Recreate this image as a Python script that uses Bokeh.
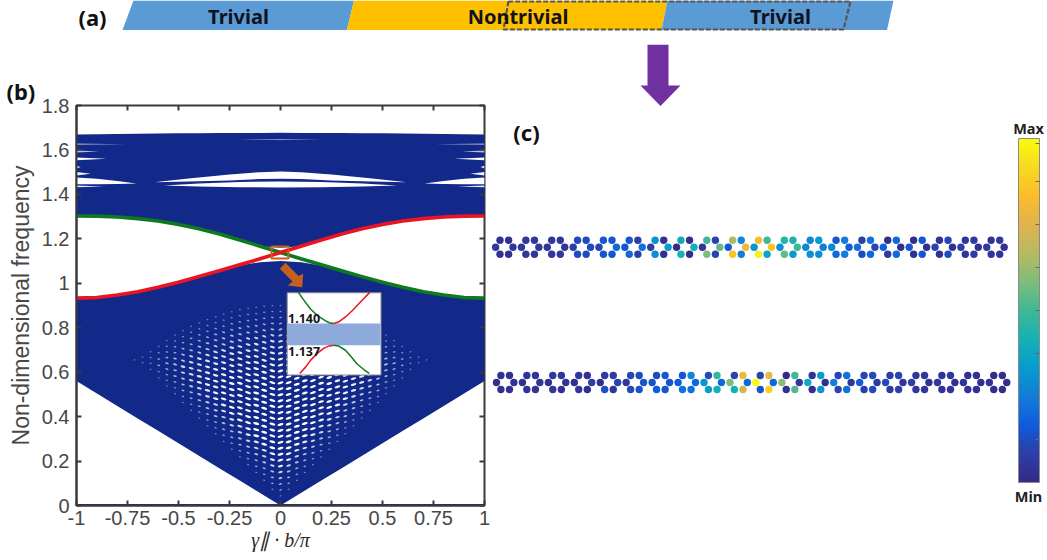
import math
import numpy as np
from bokeh.plotting import figure
from bokeh.layouts import column, row
from bokeh.embed import file_html
from bokeh.resources import INLINE
from bokeh.core.properties import value
from bokeh.models import (Range1d, LinearAxis, FixedTicker, ColorBar, LinearColorMapper, ColumnDataSource)

# ---------- panel (b) data ----------
x_ticks = [-1, -0.75, -0.5, -0.25, 0, 0.25, 0.5, 0.75, 1]
x_labels = ["-1", "-0.75", "-0.5", "-0.25", "0", "0.25", "0.5", "0.75", "1"]
y_ticks = [0, 0.2, 0.4, 0.6, 0.8, 1.0, 1.2, 1.4, 1.6, 1.8]
y_labels = ["0", "0.2", "0.4", "0.6", "0.8", "1", "1.2", "1.4", "1.6", "1.8"]

red_k = [-1, -0.9, -0.8, -0.7, -0.6, -0.5, -0.4, -0.3, -0.2, -0.1, 0, 0.1, 0.2, 0.3, 0.4, 0.5, 0.6, 0.7, 0.8, 0.9, 1]
red_f = [0.933, 0.936, 0.947, 0.962, 0.982, 1.005, 1.03, 1.056, 1.083, 1.11, 1.1385, 1.167, 1.195, 1.222, 1.245, 1.265, 1.28, 1.291, 1.298, 1.302, 1.303]
green_f = [1.303, 1.302, 1.298, 1.291, 1.28, 1.265, 1.245, 1.222, 1.195, 1.167, 1.1385, 1.11, 1.083, 1.056, 1.03, 1.005, 0.982, 0.962, 0.947, 0.936, 0.933]

low_k = [-1, 0, 1]
low_edge = [0.56, 0.0, 0.56]
up_top_k = [-1, -0.5, 0, 0.5, 1]
up_top_f = [1.67, 1.675, 1.677, 1.675, 1.67]
mid_low_top = [0.933, 0.936, 0.947, 0.962, 0.982, 1.005, 1.03, 1.056, 1.08, 1.095, 1.10, 1.095, 1.08, 1.056, 1.03, 1.005, 0.982, 0.962, 0.947, 0.936, 0.933]
mid_up_bot = [1.303, 1.302, 1.298, 1.291, 1.28, 1.265, 1.245, 1.222, 1.195, 1.167, 1.16, 1.167, 1.195, 1.222, 1.245, 1.265, 1.28, 1.291, 1.298, 1.302, 1.303]

# band gaps of the upper band
lens1_k = [-0.62, -0.45, -0.25, -0.1, 0, 0.1, 0.25, 0.45, 0.62]
lens1_top = [1.455, 1.472, 1.49, 1.50, 1.503, 1.50, 1.49, 1.472, 1.455]
lens1_bot = [1.455, 1.458, 1.463, 1.469, 1.47, 1.469, 1.463, 1.458, 1.455]
lens2_k = [-0.572, -0.4, -0.2, 0, 0.2, 0.4, 0.572]
lens2_top = [1.44, 1.449, 1.456, 1.458, 1.456, 1.449, 1.44]
lens2_bot = [1.44, 1.436, 1.432, 1.431, 1.432, 1.436, 1.44]
wedge_k = [-1, -0.9, -0.8, -0.706]
wedge_top = [1.476, 1.47, 1.46, 1.449]
wedge_bot = [1.446, 1.446, 1.447, 1.449]
sliver_end = [-0.867, -0.93, -0.98, -0.853, -0.89, -0.76]
sliver_f = [1.436, 1.493, 1.523, 1.56, 1.593, 1.626]
sliver_half = [0.004, 0.008, 0.006, 0.006, 0.004, 0.003]
sliver_alpha = [0.9, 0.95, 0.9, 1.0, 0.7, 0.6]

# lattice of small gaps in the lower band, one entry per column from k = 0 outwards
hole_col_k = [0.0, 0.04, 0.08, 0.119, 0.159, 0.199, 0.239, 0.279, 0.318, 0.358, 0.398, 0.438, 0.478, 0.517, 0.557, 0.597, 0.637, 0.677, 0.716]
hole_high = [0.913, 0.913, 0.91, 0.905, 0.90, 0.895, 0.885, 0.875, 0.862, 0.85, 0.835, 0.82, 0.80, 0.78, 0.755, 0.73, 0.705, 0.68, 0.66]
hole_low = [0.03, 0.06, 0.10, 0.135, 0.17, 0.205, 0.24, 0.275, 0.31, 0.345, 0.38, 0.415, 0.45, 0.49, 0.525, 0.56, 0.60, 0.63, 0.65]
hole_count = [33, 32, 30, 28, 27, 25, 24, 22, 21, 19, 17, 15, 13, 11, 9, 6, 4, 2, 1]

# inset: normalised k against the zoomed frequency
inset_up_green_k = [-0.76, -0.65, -0.5, -0.35, -0.21, -0.1, 0]
inset_up_green_f = [1.1443, 1.1433, 1.1420, 1.1411, 1.1405, 1.1401, 1.1400]
inset_up_red_k = [0, 0.1, 0.25, 0.4, 0.5, 0.65, 0.77]
inset_up_red_f = [1.1400, 1.1402, 1.1409, 1.1418, 1.1425, 1.1435, 1.1443]
inset_lo_red_k = [-0.73, -0.6, -0.5, -0.35, -0.21, -0.1, 0]
inset_lo_red_f = [1.1331, 1.1340, 1.1349, 1.1359, 1.1366, 1.1369, 1.1370]
inset_lo_green_k = [0, 0.1, 0.25, 0.4, 0.5, 0.65, 0.76]
inset_lo_green_f = [1.1370, 1.1369, 1.1363, 1.1352, 1.1344, 1.1336, 1.1331]

# ---------- panel (c) data: field amplitude at each of six sites of twenty rings ----------
top_tl = [.03, .05, .05, .12, .15, .15, .30, .40, .50, .65, .82, .45, .28, .15, .08, .02, .02, .04, .05, .04]
top_tr = [.03, .05, .05, .12, .15, .08, .03, .02, .10, .28, .50, .43, .33, .25, .22, .20, .15, .10, .06, .05]
top_ml = [.05, .05, .05, .08, .10, .15, .08, .00, .05, .15, .32, .30, .28, .28, .22, .18, .15, .10, .08, .06]
top_mr = [.05, .05, .05, .12, .20, .22, .33, .40, .55, .80, .85, .50, .25, .17, .10, .03, .02, .03, .03, .03]
top_bl = [.03, .05, .05, .12, .15, .20, .30, .42, .58, .85, .97, .55, .30, .20, .12, .06, .03, .03, .04, .05]
top_br = [.03, .05, .05, .12, .15, .08, .03, .02, .10, .25, .36, .33, .30, .25, .20, .20, .15, .12, .07, .05]

bot_tl = [.03, .04, .05, .05, .06, .10, .12, .15, .12, .10, .10, .00, .04, .10, .10, .08, .05, .04, .03, .02]
bot_tr = [.03, .04, .05, .03, .07, .12, .15, .27, .47, .80, .78, .50, .33, .22, .12, .10, .05, .05, .03, .02]
bot_ml = [.02, .03, .03, .03, .02, .05, .14, .17, .32, .58, 1.0, .60, .38, .26, .17, .12, .08, .05, .04, .03]
bot_mr = [.04, .04, .04, .08, .10, .14, .14, .20, .20, .20, .20, .05, .02, .05, .07, .05, .03, .03, .02, .02]
bot_bl = [.03, .04, .05, .05, .13, .12, .17, .22, .34, .42, .14, .03, .02, .10, .08, .06, .05, .04, .04, .02]
bot_br = [.03, .04, .03, .03, .05, .14, .15, .22, .42, .72, .88, .52, .32, .22, .12, .08, .05, .05, .03, .02]

parula_stops = ["#352a87", "#2c3fa8", "#0f5cdd", "#127dd8", "#079ccf", "#15b1b4", "#3fb896", "#7fbc7a", "#b7ba62", "#e0b34e", "#fdbc2a", "#f8d91f", "#f9fb0e"]

NAVY = "#13298a"
RED = "#ea1422"
GREEN = "#0e7a1f"
ORANGE = "#c55f1e"
INK = "#111111"
AXIS = "#3a3a3a"
TICK_TXT = "#474747"


def rgb(h):
    return [int(h[i:i + 2], 16) for i in (1, 3, 5)]


stops = np.array([rgb(c) for c in parula_stops], dtype=float)
pos = np.linspace(0, 1, len(parula_stops))
palette = ["#%02x%02x%02x" % tuple(int(round(np.interp(t, pos, stops[:, i]))) for i in range(3))
           for t in np.linspace(0, 1, 256)]
mapper = LinearColorMapper(palette=palette, low=0, high=1)

BOLD = value("Noto Sans")

# ---------- panel (a): strip across the top ----------
top = figure(width=1047, height=44, x_range=Range1d(0, 1047), y_range=Range1d(44, 0),
             x_axis_type=None, y_axis_type=None, toolbar_location=None, output_backend="svg",
             min_border=0, outline_line_color=None, frame_align=False)
top.grid.visible = False
top.patch([122, 133, 353.5, 346.5], [29.5, 0, 0, 29.5], color="#5b9bd5", line_color=None)
top.patch([346.5, 353.5, 667, 661], [29.5, 0, 0, 29.5], color="#ffc000", line_color=None)
top.patch([661, 667, 893, 886.5], [29.5, 0, 0, 29.5], color="#5b9bd5", line_color=None)
top.line([508, 503, 843, 850, 508], [0.8, 29, 29, 0.8, 0.8], line_color="#555555", line_width=2.2, line_dash="5 2")
top.text([238, 517.5, 780], [15.5, 15.5, 15.5], text=["Trivial", "Nontrivial", "Trivial"],
         text_font=BOLD, text_font_style="bold", text_font_size="20px", text_color="#10131c",
         text_align="center", text_baseline="middle")
top.text([92], [16], text=["(a)"], text_font=BOLD, text_font_style="bold", text_font_size="22px",
         text_color=INK, text_align="center", text_baseline="middle")

# ---------- panel (b): band diagram ----------
b = figure(width=490, height=516, x_range=Range1d(-1, 1), y_range=Range1d(0, 1.8),
           toolbar_location=None, output_backend="svg", frame_align=False,
           min_border_left=76, min_border_right=6, min_border_top=61, min_border_bottom=55,
           outline_line_color=AXIS, outline_line_width=2, background_fill_color="white",
           title="(b)", title_location="above")
b.title.align = "left"
b.title.offset = -70
b.title.standoff = 0
b.title.text_font = "Noto Sans"
b.title.text_font_style = "bold"
b.title.text_font_size = "22px"
b.title.text_color = INK
b.title.text_baseline = "middle"
b.grid.visible = False

k_grid = sorted(set(red_k))
b.varea(k_grid, np.interp(k_grid, low_k, low_edge), mid_low_top, fill_color=NAVY)
b.varea(k_grid, mid_up_bot, np.interp(k_grid, up_top_k, up_top_f), fill_color=NAVY)
b.line([-1, 1], [0, 0], line_color=NAVY, line_width=3)

# small lattice gaps
hx, hy, hw, hh, ha, hal = [], [], [], [], [], []
for i, k in enumerate(hole_col_k):
    lo, hi, n = hole_low[i], hole_high[i], hole_count[i]
    step = (hi - lo) / max(n, 1)
    for j in range(n):
        f = lo + (j + 0.5) * step
        edge = min(hi - f, f - lo)
        s = min(1.0, edge / 0.18) * (1 - 0.45 * (k / 0.72) ** 2) * (1 - 0.45 * max(0, f - 0.55) / 0.36)
        for sgn in ([1] if k == 0 else [-1, 1]):
            hx.append(sgn * k)
            hy.append(f)
            hw.append(1.8 + 4.4 * s)
            hh.append(1.2 + 1.3 * s)
            ha.append(sgn * math.radians(16))
            hal.append(0.4 + 0.6 * s)
b.ellipse(hx, hy, width=hw, height=hh, angle=ha, width_units="screen", height_units="screen",
          fill_color="white", fill_alpha=hal, line_color=None)

# gaps of the upper band
for ks, tp, bt in [(lens1_k, lens1_top, lens1_bot), (lens2_k, lens2_top, lens2_bot)]:
    b.patch(list(ks) + list(ks)[::-1], list(tp) + list(bt)[::-1], color="white", line_color=None)
for sign in (-1, 1):
    wk = [-v for v in wedge_k] if sign == 1 else list(wedge_k)
    b.patch(wk + wk[::-1], wedge_top + wedge_bot[::-1], color="white", line_color=None)
    for e, f0, hf, al in zip(sliver_end, sliver_f, sliver_half, sliver_alpha):
        edge_k = -1 if sign == -1 else 1
        tip = e if sign == -1 else -e
        b.patch([edge_k, tip, edge_k], [f0 + hf, f0, f0 - hf], color="white", fill_alpha=al, line_color=None)
b.patch([-0.21, 0, 0.21, 0], [1.647, 1.649, 1.647, 1.645], color="white", fill_alpha=0.5, line_color=None)

# edge states
b.line(red_k, green_f, line_color=GREEN, line_width=3.6, line_join="round")
b.line(red_k, red_f, line_color=RED, line_width=3.6, line_join="round")


def bx(px):
    return (px - 280) / 204.0


def by(py):
    return (505 - py) / 222.2


# marker box and arrow into the inset
b.quad(left=bx(271), right=bx(288), top=by(246), bottom=by(258), fill_color=None, line_color=ORANGE, line_width=2)
arrow_px = [279.3, 285, 298, 302.7, 301.7, 287.3, 292]
arrow_py = [268.3, 262.3, 275.5, 273.3, 286.7, 285, 281]
b.patch([bx(v) for v in arrow_px], [by(v) for v in arrow_py], color=ORANGE, line_color=None)

# inset
b.quad(left=bx(286.7), right=bx(380.5), top=by(292.3), bottom=by(374.5), fill_color="white", line_color="#8c8c8c", line_width=1)


def ik(v):
    return bx(333.3 + 46.65 * v)


def if_(v):
    return by(323 - (v - 1.140) / 0.003 * 21.7)


b.quad(left=bx(287.3), right=bx(380), top=if_(1.140), bottom=if_(1.137), fill_color="#8eaadb", line_color=None)
for ks, fs, c_ in [(inset_up_green_k, inset_up_green_f, GREEN), (inset_up_red_k, inset_up_red_f, RED),
                   (inset_lo_red_k, inset_lo_red_f, RED), (inset_lo_green_k, inset_lo_green_f, GREEN)]:
    b.line([ik(v) for v in ks], [if_(v) for v in fs], line_color=c_, line_width=1.5, line_join="round")
b.text([bx(287.5), bx(287.5)], [by(318.5), by(351.5)], text=["1.140", "1.137"], text_font=BOLD,
       text_font_style="bold", text_font_size="12.5px", text_color="#151515",
       text_align="left", text_baseline="middle")

for ax in (b.xaxis[0], b.yaxis[0]):
    ax.major_tick_in = 5
    ax.major_tick_out = 0
    ax.minor_tick_line_color = None
    ax.major_tick_line_color = AXIS
    ax.major_tick_line_width = 2
    ax.axis_line_color = AXIS
    ax.axis_line_width = 2
    ax.major_label_text_font = "Liberation Sans"
    ax.major_label_text_font_size = "20px"
    ax.major_label_text_color = TICK_TXT
b.xaxis[0].ticker = FixedTicker(ticks=x_ticks)
b.xaxis[0].major_label_overrides = dict(zip(x_ticks, x_labels))
b.yaxis[0].ticker = FixedTicker(ticks=y_ticks)
b.yaxis[0].major_label_overrides = dict(zip(y_ticks, y_labels))
b.xaxis[0].major_label_standoff = 5
b.yaxis[0].major_label_standoff = 7
b.yaxis[0].axis_label = "Non-dimensional frequency"
b.yaxis[0].axis_label_text_font = "Liberation Sans"
b.yaxis[0].axis_label_text_font_size = "23px"
b.yaxis[0].axis_label_text_font_style = "normal"
b.yaxis[0].axis_label_text_color = TICK_TXT
b.yaxis[0].axis_label_standoff = 5
b.xaxis[0].axis_label = "γ∥ · b/π"
b.xaxis[0].axis_label_text_font = "Liberation Serif"
b.xaxis[0].axis_label_text_font_size = "20px"
b.xaxis[0].axis_label_text_font_style = "italic"
b.xaxis[0].axis_label_text_color = "#2a2a2a"
b.xaxis[0].axis_label_standoff = 1

for side, ticks in (("above", x_ticks), ("right", y_ticks)):
    mirror = LinearAxis(ticker=FixedTicker(ticks=ticks), major_tick_in=5, major_tick_out=0,
                        minor_tick_line_color=None, major_tick_line_color=AXIS, major_tick_line_width=2,
                        axis_line_color=None, major_label_text_color=None,
                        major_label_text_font_size="1px", major_label_standoff=0)
    b.add_layout(mirror, side)

# ---------- panel (c): ring chains and colour bar ----------
c = figure(width=557, height=516, x_range=Range1d(490, 1047), y_range=Range1d(560, 44),
           x_axis_type=None, y_axis_type=None, toolbar_location=None, output_backend="svg",
           min_border=0, outline_line_color=None, frame_align=False)
c.grid.visible = False

site_dx = [-4.3, 4.3, -8.7, 8.7, -4.3, 4.3]
site_dy = [-7, -7, 0, 0, 7, 7]
for (x0, y0, step, vals) in [(503.8, 246.7, 25.85, (top_tl, top_tr, top_ml, top_mr, top_bl, top_br)),
                             (504.7, 382, 25.94, (bot_tl, bot_tr, bot_ml, bot_mr, bot_bl, bot_br))]:
    xs, ys, vs = [], [], []
    for s in range(6):
        for r in range(20):
            xs.append(x0 + step * r + site_dx[s])
            ys.append(y0 + site_dy[s])
            vs.append(vals[s][r])
    src = ColumnDataSource(dict(x=xs, y=ys, v=vs))
    c.scatter("x", "y", size=7.4, fill_color={"field": "v", "transform": mapper}, line_color=None, source=src)

c.patch([647, 668, 668, 680, 660, 640, 647], [44, 44, 85, 85, 105.5, 85, 85], color="#7030a0", line_color=None)
c.text([526], [131], text=["(c)"], text_font=BOLD, text_font_style="bold", text_font_size="22px",
       text_color=INK, text_align="center", text_baseline="middle")
c.text([1028, 1028], [127, 495], text=["Max", "Min"], text_font=BOLD, text_font_style="bold",
       text_font_size="14.5px", text_color="#222222", text_align="center", text_baseline="middle")

cb = ColorBar(color_mapper=mapper, location=(528, 78), width=21, height=344, padding=0, margin=0,
              ticker=FixedTicker(ticks=[0.125, 0.25, 0.375, 0.5, 0.625, 0.75, 0.875, 0.985]),
              major_label_text_color=None, major_label_text_font_size="1px", label_standoff=0,
              major_tick_in=4, major_tick_out=0, major_tick_line_color="#666666",
              bar_line_color="#8a8a8a", minor_tick_line_color=None, background_fill_color=None,
              border_line_color=None)
c.add_layout(cb, "center")

page = column(top, row(b, c, spacing=0), spacing=0)
open("out.html", "w").write(file_html(page, INLINE))
